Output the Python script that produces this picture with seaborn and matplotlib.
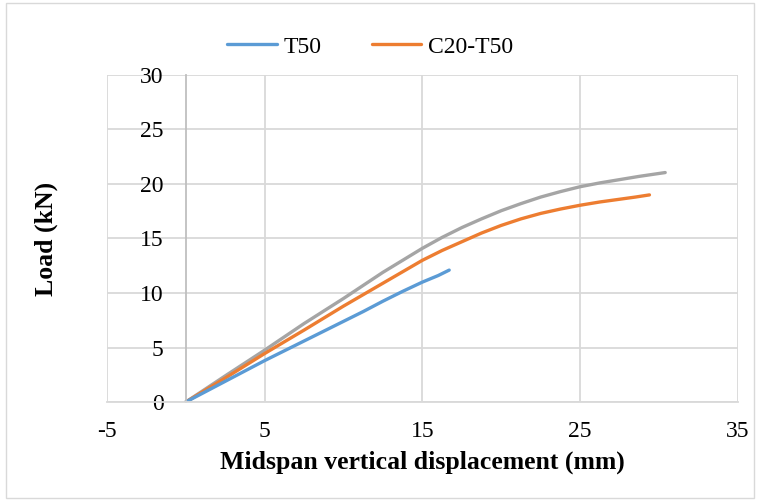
import matplotlib
matplotlib.use("Agg")
import matplotlib.pyplot as plt
import seaborn as sns
from matplotlib.patches import Rectangle

# readings taken off the reference chart
t50_x = [0, 2.5, 5, 7.5, 10, 11.25, 12.5, 13.75, 15, 16, 16.7]
t50_y = [0, 1.9, 3.8, 5.6, 7.4, 8.3, 9.25, 10.15, 11.0, 11.6, 12.1]

c20_x = [0, 2.5, 5, 7.5, 10, 12.5, 13.75, 15, 16.25, 17.5, 18.75, 20,
         21.25, 22.5, 23.75, 25, 26.25, 27.5, 28.5, 29.4]
c20_y = [0, 2.2, 4.45, 6.6, 8.8, 10.9, 11.95, 13.0, 13.9, 14.7, 15.5, 16.2,
         16.8, 17.3, 17.7, 18.05, 18.35, 18.6, 18.8, 19.0]

# third series (gray) has no legend entry in the original
gray_x = [0, 2.5, 5, 7.5, 10, 12.5, 13.75, 15, 16.25, 17.5, 18.75, 20,
          21.25, 22.5, 23.75, 25, 26.25, 27.5, 28.75, 30.4]
gray_y = [0, 2.4, 4.76, 7.2, 9.5, 11.9, 13.0, 14.1, 15.1, 16.0, 16.8, 17.55,
          18.2, 18.8, 19.3, 19.75, 20.1, 20.4, 20.7, 21.05]

x_ticks = [-5, 5, 15, 25, 35]
y_ticks = [0, 5, 10, 15, 20, 25, 30]

sns.set_theme(style="white")
plt.rcParams['font.family'] = ['Liberation Serif', 'DejaVu Serif']
plt.rcParams['axes.unicode_minus'] = False
plt.rcParams['text.color'] = 'black'
plt.rcParams['axes.labelcolor'] = 'black'

fig = plt.figure(figsize=(7.59, 5), dpi=100)
ax = fig.add_axes([0.141, 0.196, 0.831, 0.654])

lw = 2.4
sns.lineplot(x=gray_x, y=gray_y, ax=ax, color="#A5A5A5", lw=lw, sort=False,
             label="_nolegend_")
sns.lineplot(x=c20_x, y=c20_y, ax=ax, color="#ED7D31", lw=lw, sort=False,
             label="C20-T50")
sns.lineplot(x=t50_x, y=t50_y, ax=ax, color="#5B9BD5", lw=lw, sort=False,
             label="T50")

ax.set_xlim(-5, 35)
ax.set_ylim(0, 30)
ax.set_xticks(x_ticks)
ax.set_yticks(y_ticks)
ax.grid(True, color="#d9d9d9", lw=1.3)
ax.set_axisbelow(True)

for s in ["top", "right"]:
    ax.spines[s].set_visible(False)
ax.spines["left"].set_position(("data", 0))
ax.spines["left"].set_color("#bfbfbf")
ax.spines["left"].set_linewidth(1.3)
ax.spines["bottom"].set_color("#d9d9d9")
ax.spines["bottom"].set_linewidth(1.3)

ax.tick_params(axis="both", length=0, labelsize=17, colors="black")
ax.tick_params(axis="y", pad=16)
ax.tick_params(axis="x", pad=14)

ax.set_xlabel("Midspan vertical displacement (mm)", fontsize=18.5,
              fontweight="bold", labelpad=6)
ax.set_ylabel("Load (kN)", fontsize=18.5, fontweight="bold")
ax.yaxis.set_label_coords(-0.078, 0.5)

handles, labels = ax.get_legend_handles_labels()
order = [labels.index("T50"), labels.index("C20-T50")]
ax.legend([handles[i] for i in order], [labels[i] for i in order],
          loc="center", bbox_to_anchor=(0.488, 0.906),
          bbox_transform=fig.transFigure, ncol=2,
          frameon=False, fontsize=17, handlelength=2.1, columnspacing=2.1,
          handletextpad=0.3)

fig.patches.append(Rectangle((0.008, 0.004), 0.986, 0.99, transform=fig.transFigure,
                             fill=False, edgecolor="#d9d9d9", lw=1))

fig.savefig("out.png", dpi=100)
